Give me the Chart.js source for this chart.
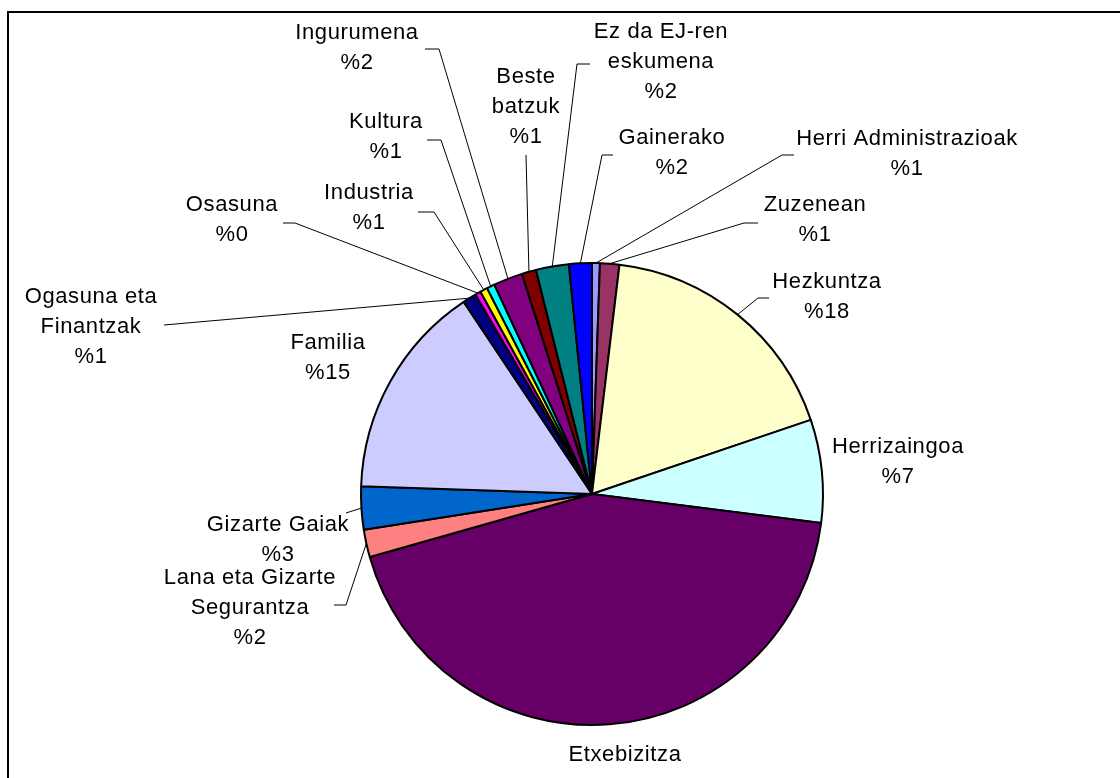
<!DOCTYPE html>
<html>
<head>
<meta charset="utf-8">
<script src="https://cdn.jsdelivr.net/npm/chart.js@4.4.1/dist/chart.umd.min.js"></script>
<style>
  html, body { margin: 0; padding: 0; background: #ffffff; }
  #wrap { width: 1120px; height: 778px; position: relative; }
</style>
</head>
<body>
<div id="wrap"><canvas id="c" width="1120" height="778"></canvas></div>
<script>
// ---- data ----
const categories = ['Herri Administrazioak','Zuzenean','Hezkuntza','Herrizaingoa','Etxebizitza',
  'Lana eta Gizarte Segurantza','Gizarte Gaiak','Familia','Ogasuna eta Finantzak','Osasuna',
  'Industria','Kultura','Ingurumena','Beste batzuk','Ez da EJ-ren eskumena','Gainerako'];
const values = [0.55, 1.35, 17.9, 7.2, 43.6, 1.93, 3.0, 15.1, 0.95, 0.4, 0.52, 0.55, 2.05, 1.0, 2.3, 1.6];
const nameLines = [['Herri Administrazioak'],['Zuzenean'],['Hezkuntza'],['Herrizaingoa'],['Etxebizitza'],
  ['Lana eta Gizarte','Segurantza'],['Gizarte Gaiak'],['Familia'],['Ogasuna eta','Finantzak'],['Osasuna'],
  ['Industria'],['Kultura'],['Ingurumena'],['Beste','batzuk'],['Ez da EJ-ren','eskumena'],['Gainerako']];
// the Etxebizitza percentage falls outside the cropped picture
const showPercent = [true,true,true,true,false,true,true,true,true,true,true,true,true,true,true,true];
const colors = ['#9999FF','#993366','#FFFFCC','#CCFFFF','#660066','#FF8080','#0066CC','#CCCCFF',
  '#000080','#FF00FF','#FFFF00','#00FFFF','#800080','#800000','#008080','#0000FF'];

// ---- label layout: text block centre x, first line y; leader start (text side) and tick length ----
const labelLayout = [
  {x: 907, y: 139, ax: 794, ay: 155, tick: -12},
  {x: 815, y: 205, ax: 758, ay: 223, tick: -14},
  {x: 827, y: 282, ax: 769, ay: 298, tick: -11},
  {x: 898, y: 447, ax: null},
  {x: 625, y: 755, ax: null},
  {x: 250, y: 578, ax: 334, ay: 605, tick: 12},
  {x: 278, y: 525, ax: 346, ay: 513, tick: 0},
  {x: 328, y: 343, ax: null},
  {x: 91,  y: 297, ax: 164, ay: 325, tick: 0},
  {x: 232, y: 205, ax: 283, ay: 223, tick: 12},
  {x: 369, y: 193, ax: 418, ay: 212, tick: 16},
  {x: 386, y: 122, ax: 427, ay: 140, tick: 14},
  {x: 357, y: 33,  ax: 425, ay: 49,  tick: 14},
  {x: 526, y: 77,  ax: 526, ay: 155, tick: 0},
  {x: 661, y: 32,  ax: 590, ay: 64,  tick: -13},
  {x: 672, y: 138, ax: 613, ay: 155, tick: -11}
];
const lineHeight = 30;
const labelFont = '22px "Liberation Sans", Arial, sans-serif';

const total = values.reduce((a, b) => a + b, 0);

const framePlugin = {
  id: 'frame',
  beforeDraw(chart) {
    const ctx = chart.ctx;
    ctx.save();
    ctx.fillStyle = '#ffffff';
    ctx.fillRect(0, 0, chart.width, chart.height);
    ctx.strokeStyle = '#000000';
    ctx.lineWidth = 2;
    ctx.strokeRect(8, 12, 1200, 900);
    ctx.restore();
  }
};

const labelPlugin = {
  id: 'pieLabels',
  afterDatasetsDraw(chart) {
    const ctx = chart.ctx;
    const meta = chart.getDatasetMeta(0);
    ctx.save();
    meta.data.forEach((arc, i) => {
      const p = arc.getProps(['x','y','startAngle','endAngle','outerRadius'], true);
      const mid = (p.startAngle + p.endAngle) / 2;
      const px = p.x + Math.cos(mid) * p.outerRadius;
      const py = p.y + Math.sin(mid) * p.outerRadius;
      const L = labelLayout[i];
      if (L.ax !== null) {
        ctx.strokeStyle = '#000000';
        ctx.lineWidth = 1;
        ctx.beginPath();
        ctx.moveTo(L.ax, L.ay);
        if (L.tick) ctx.lineTo(L.ax + L.tick, L.ay);
        ctx.lineTo(px, py);
        ctx.stroke();
      }
    });
    ctx.font = labelFont;
    if ('letterSpacing' in ctx) ctx.letterSpacing = '0.6px';
    ctx.fillStyle = '#000000';
    ctx.textAlign = 'center';
    ctx.textBaseline = 'middle';
    meta.data.forEach((arc, i) => {
      const L = labelLayout[i];
      const lines = nameLines[i].slice();
      if (showPercent[i]) lines.push('%' + Math.round(values[i] / total * 100));
      lines.forEach((t, k) => ctx.fillText(t, L.x, L.y + k * lineHeight));
    });
    ctx.restore();
  }
};

new Chart(document.getElementById('c'), {
  type: 'pie',
  data: {
    labels: categories,
    datasets: [{
      data: values,
      backgroundColor: colors,
      borderColor: '#000000',
      borderWidth: 2
    }]
  },
  options: {
    responsive: false,
    animation: false,
    devicePixelRatio: 1,
    layout: { padding: { left: 360, right: 296, top: 262, bottom: 52 } },
    plugins: { legend: { display: false }, tooltip: { enabled: false } }
  },
  plugins: [framePlugin, labelPlugin]
});
</script>
</body>
</html>
